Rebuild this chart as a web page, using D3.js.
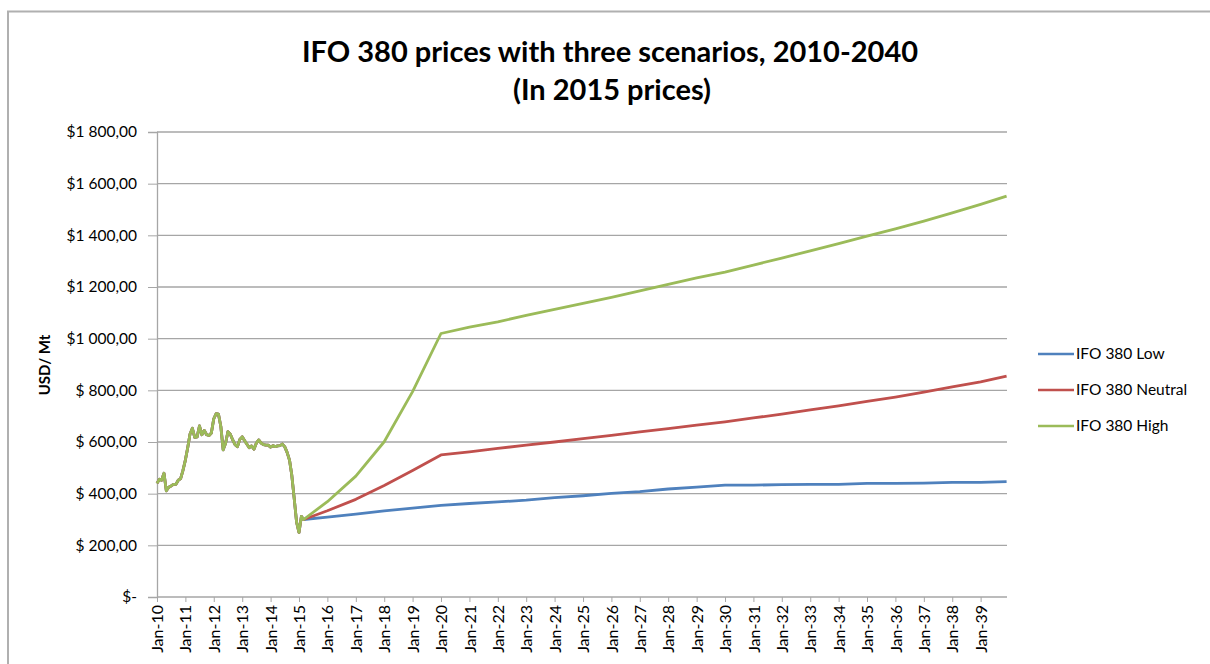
<!DOCTYPE html>
<html>
<head>
<meta charset="utf-8">
<script src="https://cdn.jsdelivr.net/npm/d3@7"></script>
<style>
  body { margin: 0; background: #fff; }
  text { font-family: Lato, "Open Sans", sans-serif; fill: #000; }
</style>
</head>
<body>
<script>
// monthly history, Jan-10 .. Feb-15 (USD/Mt)
var historyValues = [
  440, 456, 452, 479, 411, 425, 430, 436, 436, 452, 458, 490,
  530, 580, 630, 653, 618, 620, 662, 628, 645, 628, 625, 635,
  690, 710, 708, 660, 570, 595, 640, 630, 608, 590, 582, 610,
  620, 605, 592, 578, 585, 572, 595, 608, 596, 590, 588, 588,
  580, 586, 582, 585, 586, 592, 582, 560, 530, 470, 380, 290,
  250, 312
];

// scenario points (Mar-15, then every January, last Dec-39)
var scenarioDates = ['2015-03', '2016-01', '2017-01', '2018-01', '2019-01', '2020-01',
  '2021-01', '2022-01', '2023-01', '2024-01', '2025-01', '2026-01', '2027-01', '2028-01',
  '2029-01', '2030-01', '2031-01', '2032-01', '2033-01', '2034-01', '2035-01', '2036-01',
  '2037-01', '2038-01', '2039-01', '2039-12'];
var lowValues = [300, 309, 321, 333, 344, 355, 362, 368, 375, 385, 392, 401, 408, 418,
  425, 433, 433, 435, 436, 436, 440, 440, 441, 444, 444, 447];
var neutralValues = [300, 334, 378, 432, 490, 550, 562, 575, 588, 600, 613, 626, 639, 652,
  665, 678, 693, 708, 724, 740, 757, 774, 793, 813, 833, 855];
var highValues = [300, 369, 468, 601, 795, 1020, 1045, 1065, 1090, 1113, 1137, 1160, 1185, 1210,
  1235, 1258, 1285, 1312, 1340, 1368, 1397, 1425, 1455, 1487, 1520, 1552];

var seriesNames = ['IFO 380 Low', 'IFO 380 Neutral', 'IFO 380 High'];
var seriesColors = ['#4f81bd', '#c0504d', '#9bbb59'];
var yTicks = [0, 200, 400, 600, 800, 1000, 1200, 1400, 1600, 1800];
var tickYears = d3.range(2010, 2040);

var parseMonth = d3.timeParse('%Y-%m');

var svg = d3.select('body').append('svg').attr('width', 1210).attr('height', 664);

// chart frame
svg.append('path')
  .attr('d', 'M8,664 V11.5 H1210')
  .attr('fill', 'none')
  .attr('stroke', '#b0b0b0')
  .attr('stroke-width', 2);

var x = d3.scaleTime()
  .domain([new Date(2010, 0, 1), new Date(2040, 0, 1)])
  .range([157, 1009]);
var y = d3.scaleLinear().domain([0, 1800]).range([597, 132]);

// gridlines
svg.append('g').selectAll('line').data(yTicks.slice(1)).enter().append('line')
  .attr('x1', 157).attr('x2', 1007)
  .attr('y1', function(d) { return y(d); })
  .attr('y2', function(d) { return y(d); })
  .attr('stroke', '#a6a6a6').attr('stroke-width', 1.3);

// y axis
var fmt = function(d) {
  if (d === 0) return '$-';
  var s = d3.format(',')(d).replace(',', '\u00a0');
  return (d >= 1000 ? '$' : '$\u00a0') + s + ',00';
};
var yAxis = svg.append('g').attr('transform', 'translate(157,0)')
  .call(d3.axisLeft(y).tickValues(yTicks).tickSize(9).tickPadding(11).tickFormat(fmt));
yAxis.select('.domain').attr('stroke', '#a6a6a6').attr('stroke-width', 1.3);
yAxis.selectAll('.tick line').attr('stroke', '#a6a6a6');
yAxis.selectAll('text').style('font-size', '15.5px').attr('fill', '#000');

// x axis
var xAxis = svg.append('g').attr('transform', 'translate(0,597)')
  .call(d3.axisBottom(x)
    .tickValues(tickYears.map(function(yr) { return new Date(yr, 0, 1); }))
    .tickSize(5)
    .tickFormat(d3.timeFormat('%b-%y')));
xAxis.select('.domain').attr('d', 'M157,0H1007').attr('stroke', '#a6a6a6').attr('stroke-width', 1.3);
xAxis.selectAll('.tick line').attr('stroke', '#a6a6a6');
xAxis.selectAll('text')
  .style('font-size', '16px')
  .attr('text-anchor', 'end')
  .attr('transform', 'rotate(-90)')
  .attr('x', -8).attr('y', 0).attr('dy', '0.35em');

// lines
var line = d3.line()
  .x(function(d) { return x(d.date); })
  .y(function(d) { return y(d.value); });

var historyPts = historyValues.map(function(v, i) {
  return { date: new Date(2010, i, 1), value: v };
});
var scenarios = [lowValues, neutralValues, highValues];

scenarios.forEach(function(vals, k) {
  var pts = historyPts.concat(vals.map(function(v, i) {
    return { date: parseMonth(scenarioDates[i]), value: v };
  }));
  svg.append('path')
    .datum(pts)
    .attr('d', line)
    .attr('fill', 'none')
    .attr('stroke', seriesColors[k])
    .attr('stroke-width', 2.8)
    .attr('stroke-linejoin', 'round');
});

// title
svg.append('text').attr('x', 610).attr('y', 62).attr('text-anchor', 'middle')
  .style('font-size', '29px').style('font-weight', 'bold')
  .text('IFO 380 prices with three scenarios, 2010-2040');
svg.append('text').attr('x', 612).attr('y', 100).attr('text-anchor', 'middle')
  .style('font-size', '29px').style('font-weight', 'bold')
  .text('(In 2015 prices)');

// y axis title
svg.append('text')
  .attr('transform', 'translate(50,365) rotate(-90)')
  .attr('text-anchor', 'middle')
  .style('font-size', '15px').style('font-weight', 'bold')
  .text('USD/ Mt');

// legend
var legend = svg.append('g').selectAll('g').data(seriesNames).enter().append('g')
  .attr('transform', function(d, i) { return 'translate(1038,' + (354 + i * 36) + ')'; });
legend.append('line').attr('x1', 0).attr('x2', 36)
  .attr('stroke', function(d, i) { return seriesColors[i]; })
  .attr('stroke-width', 2.6);
legend.append('text').attr('x', 38).attr('dy', '0.35em')
  .style('font-size', '15.5px')
  .text(function(d) { return d; });
</script>
</body>
</html>
